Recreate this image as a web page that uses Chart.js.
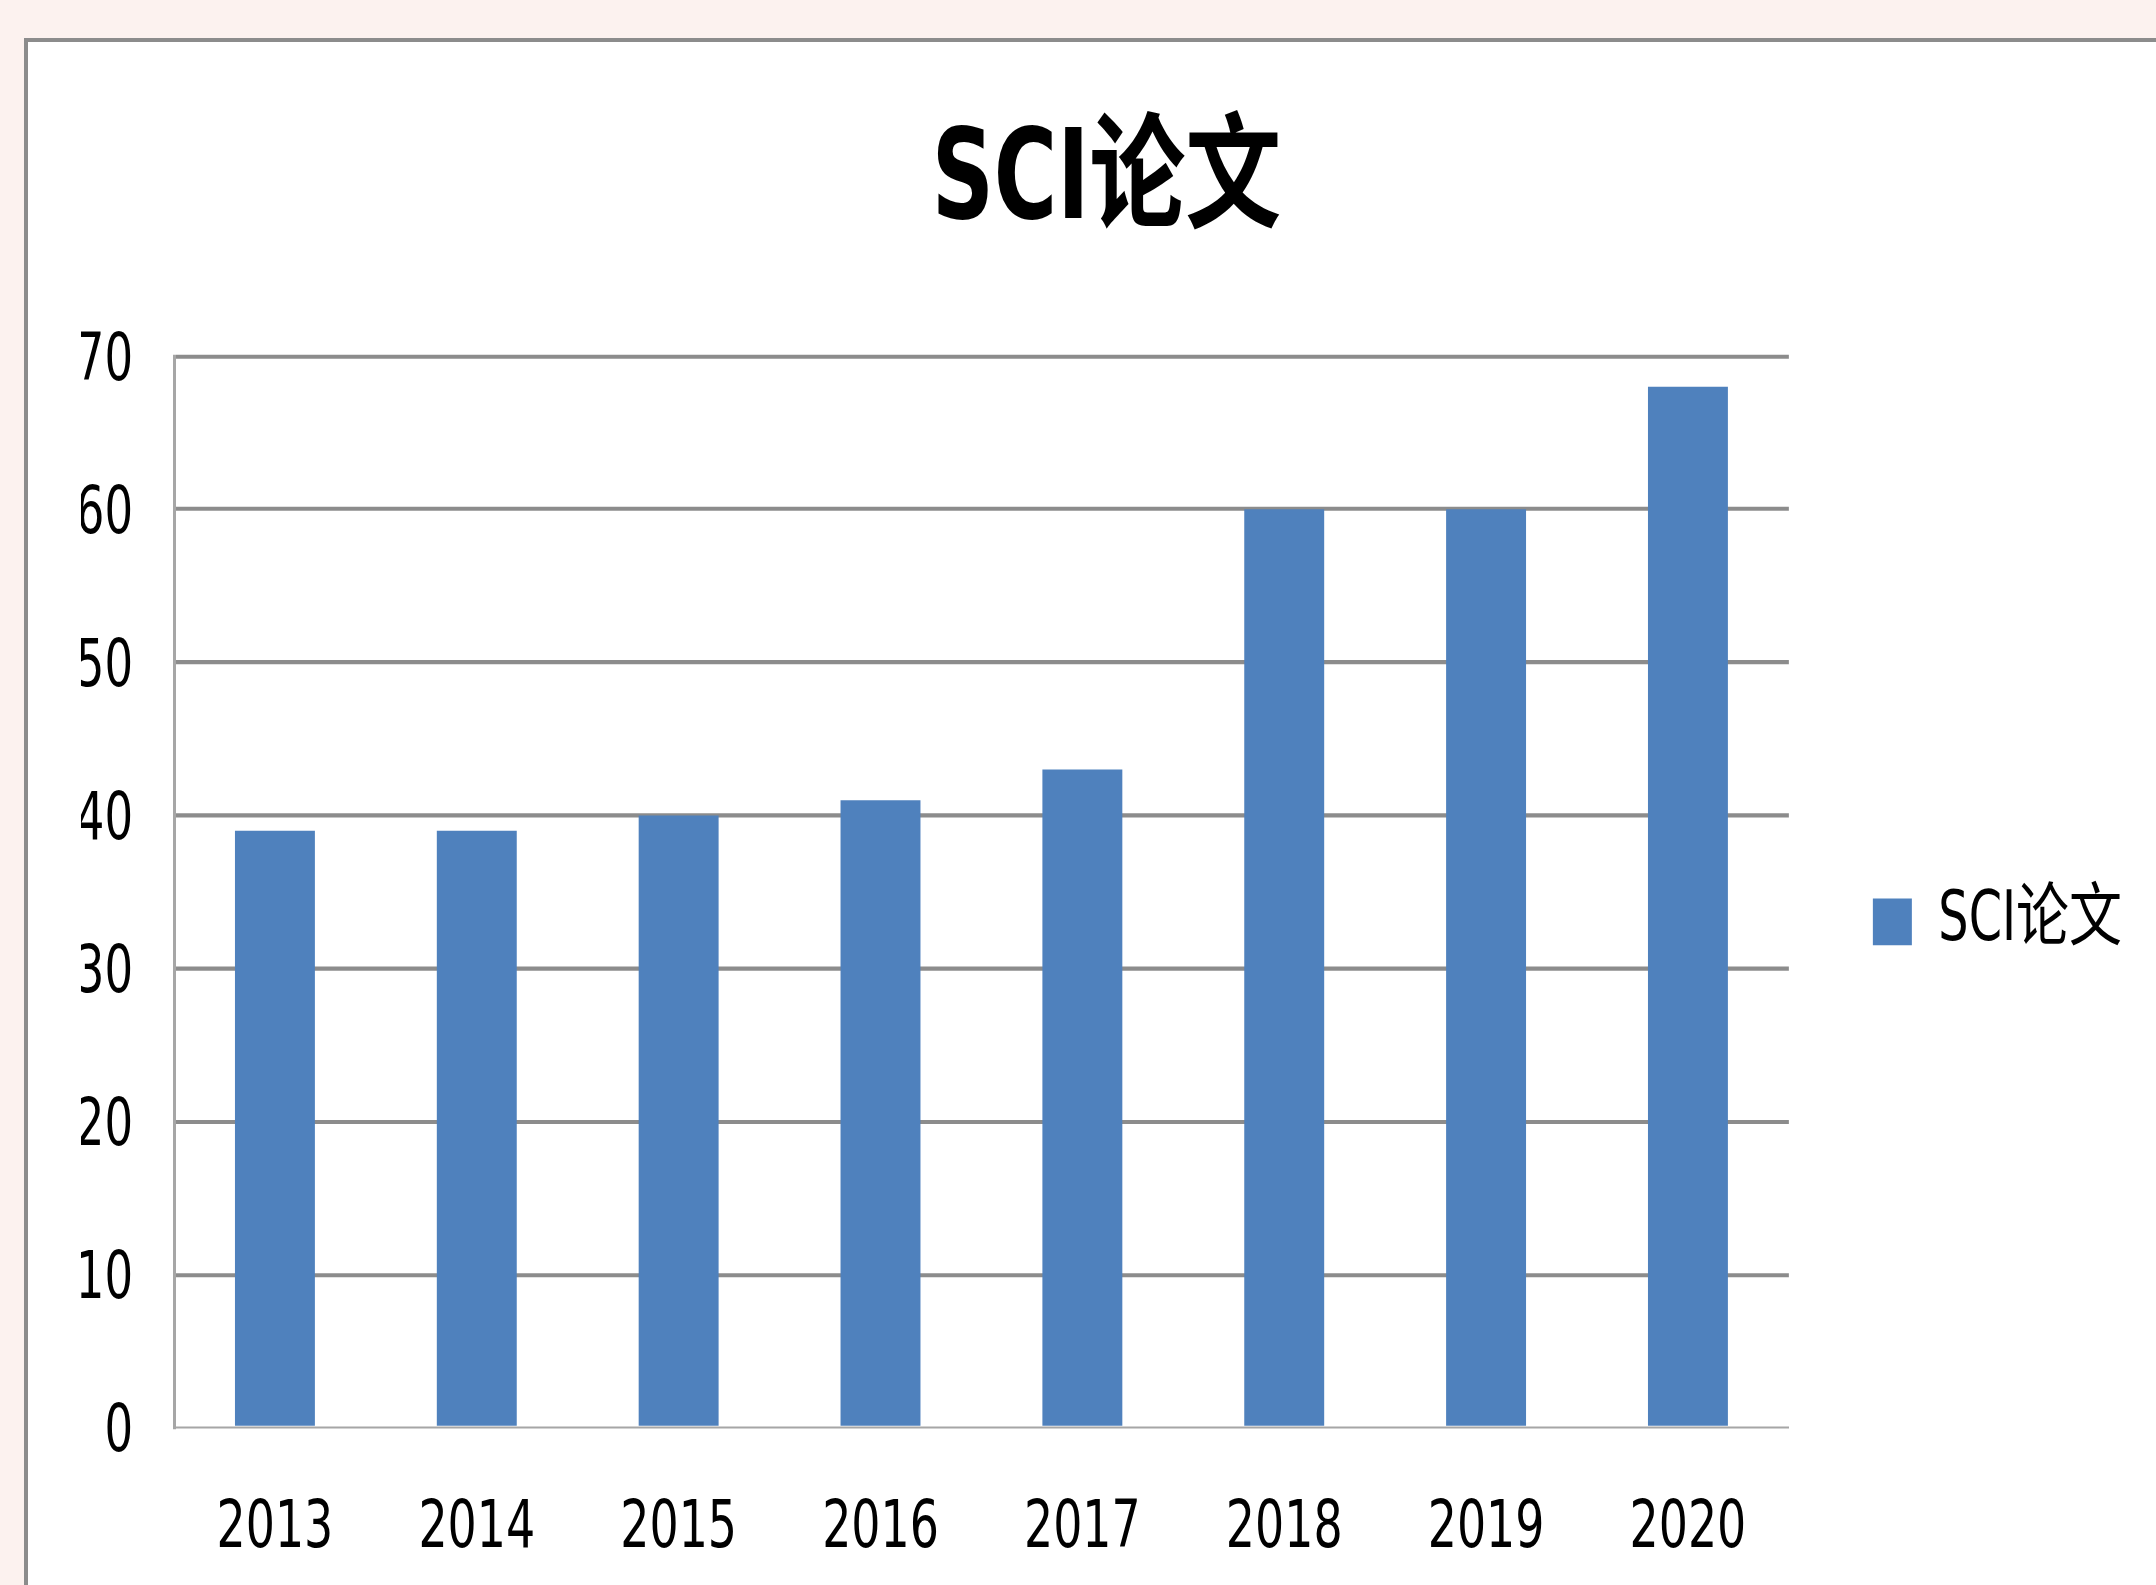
<!DOCTYPE html>
<html>
<head>
<meta charset="utf-8">
<script src="https://cdn.jsdelivr.net/npm/chart.js@4.4.1/dist/chart.umd.min.js"></script>
<style>
  html, body { margin: 0; padding: 0; }
  body { width: 2156px; height: 1585px; overflow: hidden; background: #fcf2ef; position: relative; }
  #frame { position: absolute; left: 24px; top: 38px; width: 2300px; height: 1700px; background: #ffffff;
           border-left: 4px solid #8c8c8c; border-top: 4px solid #8c8c8c; }
  #c { position: absolute; left: 0; top: 0; }
</style>
</head>
<body>
<div id="frame"></div>
<canvas id="c" width="2156" height="1220"></canvas>
<script>
const categories = ['2013', '2014', '2015', '2016', '2017', '2018', '2019', '2020'];
const seriesName = 'SCI论文';
const sciPapers = [39, 39, 40, 41, 43, 60, 60, 68];
const yTicks = [0, 10, 20, 30, 40, 50, 60, 70];
const chartTitle = 'SCI论文';

const FONT = "'DejaVu Sans Condensed', 'Noto Sans CJK SC', sans-serif";
const FULL_H = 1585;
const LOGICAL_H = 1220;
const STRETCH = FULL_H / LOGICAL_H;   // the reference is vertically stretched

const stretchPlugin = {
  id: 'stretch',
  beforeDraw(chart) { chart.ctx.save(); chart.ctx.scale(1, STRETCH); },
  afterDraw(chart) { chart.ctx.restore(); }
};

const canvas = document.getElementById('c');
const chart = new Chart(canvas, {
  type: 'bar',
  data: {
    labels: categories,
    datasets: [{
      label: seriesName,
      data: sciPapers,
      backgroundColor: '#4f81bd',
      borderWidth: 0,
      barPercentage: 1.0,
      categoryPercentage: 0.396
    }]
  },
  plugins: [stretchPlugin],
  options: {
    responsive: false,
    devicePixelRatio: 1,
    animation: false,
    layout: { padding: { left: 81, right: 24, top: 0, bottom: 0 } },
    plugins: {
      title: {
        display: true,
        text: chartTitle,
        color: '#000000',
        font: { family: FONT, size: 96, weight: 'bold', lineHeight: 1.2 },
        padding: { top: 85, bottom: 74 }
      },
      legend: {
        position: 'right',
        align: 'center',
        fullSize: false,
        title: { display: true, text: '', font: { size: 20, lineHeight: 1.2 }, padding: { top: 0, bottom: 22 } },
        labels: {
          boxWidth: 39,
          boxHeight: 36,
          color: '#000000',
          padding: 84,
          font: { family: FONT, size: 53 }
        }
      },
      tooltip: { enabled: false }
    },
    scales: {
      x: {
        afterFit: (scale) => { scale.height = 121; },
        grid: { display: false, drawTicks: false },
        border: { display: true, color: '#a6a6a6', width: 1.6 },
        ticks: { color: '#000000', font: { family: FONT, size: 51 }, padding: 48, maxRotation: 0, autoSkip: false }
      },
      y: {
        min: 0,
        max: 70,
        afterFit: (scale) => { scale.width = 93; },
        afterBuildTicks: (scale) => { scale.ticks = yTicks.map(v => ({ value: v })); },
        grid: {
          drawTicks: false,
          lineWidth: 3.2,
          color: (ctx) => (ctx.tick && ctx.tick.value === 0) ? 'rgba(0,0,0,0)' : '#8c8c8c'
        },
        border: { display: true, color: '#a6a6a6', width: 3 },
        ticks: { color: '#000000', font: { family: FONT, size: 50 }, padding: 41, labelOffset: 5 }
      }
    }
  }
});

// enlarge the bitmap to the full window height and redraw with the vertical stretch
canvas.height = FULL_H;
canvas.style.height = FULL_H + 'px';
canvas.style.width = '2156px';
chart.draw();
</script>
</body>
</html>
